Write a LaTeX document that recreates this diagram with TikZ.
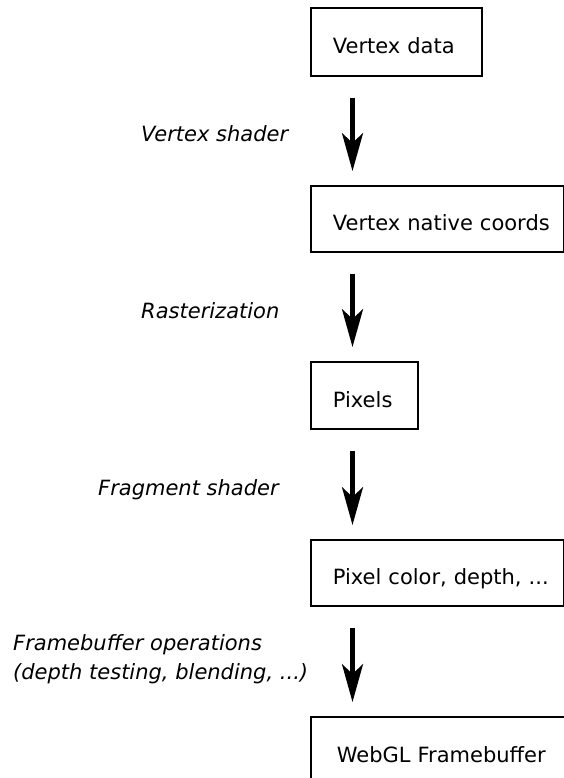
\documentclass[tikz,border=0pt]{standalone}
\usepackage{fontspec}
\setmainfont{DejaVu Sans}
\usetikzlibrary{arrows.meta}
\begin{document}
\begin{tikzpicture}[x=1pt,y=1pt,
  every node/.style={font=\fontsize{21}{29}\selectfont},
  stage/.style={draw=black, line width=1.8pt, anchor=west, align=left,
    inner xsep=22pt, inner ysep=0pt, text height=23pt, text depth=0pt},
  lbl/.style={font=\fontsize{21}{29}\selectfont\itshape, anchor=base west, inner sep=0pt},
  flow/.style={line width=4.5pt, -{Stealth[length=38pt, width=21pt, inset=10pt]},
    shorten <=21pt, shorten >=14pt}
]
\useasboundingbox (0,0) rectangle (564,-778);
\node[stage, minimum width=171pt, minimum height=68pt, text width=127pt] (b1) at (310,-42) {\mbox{Vertex data}};
\node[stage, minimum width=253pt, minimum height=66pt, text width=209pt] (b2) at (310,-219) {\mbox{Vertex native coords}};
\node[stage, minimum width=107pt, minimum height=67pt, text width=63pt] (b3) at (310,-395.5) {\mbox{Pixels}};
\node[stage, minimum width=253pt, minimum height=66pt, text width=209pt] (b4) at (310,-573) {\mbox{Pixel color, depth, ...}};
\node[stage, inner xsep=26pt, minimum width=300pt, minimum height=67pt, text width=248pt] (b5) at (310,-750.5) {\mbox{WebGL Framebuffer}};

\draw[flow] ([xshift=42.5pt]b1.south west) -- ([xshift=42.5pt]b2.north west);
\draw[flow] ([xshift=42.5pt]b2.south west) -- ([xshift=42.5pt]b3.north west);
\draw[flow] ([xshift=42.5pt]b3.south west) -- ([xshift=42.5pt]b4.north west);
\draw[flow] ([xshift=42.5pt]b4.south west) -- ([xshift=42.5pt]b5.north west);

\node[lbl] (l1) at (141,-142) {Vertex shader};
\node[lbl] (l2) at (141,-318) {Rasterization};
\node[lbl] (l3) at (98,-495) {Fragment shader};
\node[lbl] (l4a) at (13,-650) {Framebuffer operations};
\node[lbl] (l4b) at (13,-679) {(depth testing, blending, ...)};
\end{tikzpicture}
\end{document}
